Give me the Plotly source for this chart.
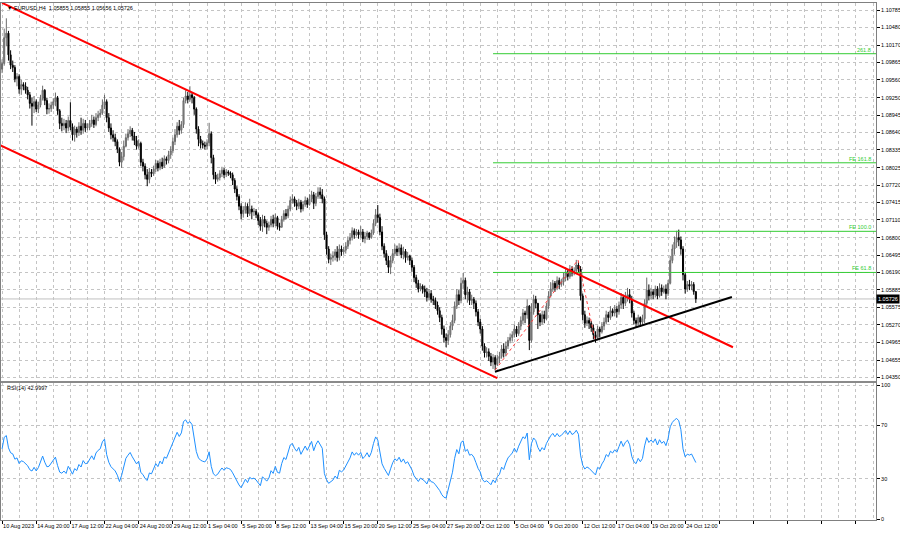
import plotly.graph_objects as go

# ---------------- data (EURUSD H4, 10 Aug 2023 04:00 -> 25 Oct 2023 08:00) ----------------
first_open = 1.0975
closes = [
    1.0985, 1.1030, 1.1038, 1.1000, 1.0982,
    1.0978, 1.0958, 1.0962, 1.0940, 1.0948, 1.0945,
    1.0938, 1.0930, 1.0915, 1.0910, 1.0918, 1.0905,
    1.0912, 1.0924, 1.0938, 1.0920, 1.0905, 1.0906,
    1.0912, 1.0918, 1.0925, 1.0902, 1.0880, 1.0876,
    1.0880, 1.0872, 1.0885, 1.0874, 1.0860, 1.0870,
    1.0864, 1.0875, 1.0868, 1.0880, 1.0872, 1.0873,
    1.0880, 1.0886, 1.0878, 1.0890, 1.0895, 1.0898,
    1.0912, 1.0918, 1.0890, 1.0872, 1.0860, 1.0855,
    1.0848, 1.0835, 1.0812, 1.0822, 1.0840, 1.0855,
    1.0862, 1.0868, 1.0858, 1.0850, 1.0840, 1.0845,
    1.0812, 1.0805, 1.0790, 1.0782, 1.0795, 1.0792,
    1.0800, 1.0810, 1.0802, 1.0812, 1.0805, 1.0818,
    1.0815, 1.0825, 1.0832, 1.0848, 1.0860, 1.0875,
    1.0868, 1.0878, 1.0920, 1.0928, 1.0922, 1.0930,
    1.0925, 1.0905, 1.0870, 1.0852, 1.0845, 1.0842,
    1.0840, 1.0846, 1.0862, 1.0820, 1.0790, 1.0782,
    1.0785, 1.0792, 1.0798, 1.0790, 1.0795, 1.0793,
    1.0790, 1.0780, 1.0765, 1.0752, 1.0735, 1.0722,
    1.0728, 1.0735, 1.0722, 1.0730, 1.0725, 1.0726,
    1.0720, 1.0710, 1.0700, 1.0712, 1.0705, 1.0698,
    1.0702, 1.0712, 1.0705, 1.0715, 1.0700, 1.0698,
    1.0712, 1.0722, 1.0718, 1.0730, 1.0745, 1.0748,
    1.0740, 1.0735, 1.0742, 1.0730, 1.0738, 1.0745,
    1.0738, 1.0748, 1.0755, 1.0740, 1.0752, 1.0760,
    1.0755, 1.0748, 1.0685, 1.0660, 1.0642, 1.0645,
    1.0648, 1.0655, 1.0645, 1.0660, 1.0655, 1.0658,
    1.0665, 1.0675, 1.0680, 1.0692, 1.0685, 1.0690,
    1.0685, 1.0690, 1.0678, 1.0682, 1.0688, 1.0680,
    1.0688, 1.0705, 1.0720, 1.0715, 1.0690, 1.0665,
    1.0652, 1.0640, 1.0628, 1.0640, 1.0652, 1.0660,
    1.0655, 1.0662, 1.0650, 1.0656, 1.0645, 1.0648,
    1.0640, 1.0628, 1.0610, 1.0600, 1.0590, 1.0595,
    1.0590, 1.0585, 1.0575, 1.0582, 1.0572, 1.0570,
    1.0562, 1.0552, 1.0540, 1.0520, 1.0505, 1.0500,
    1.0510, 1.0525, 1.0535, 1.0560, 1.0580, 1.0570,
    1.0600, 1.0605, 1.0580, 1.0585, 1.0570, 1.0572,
    1.0565, 1.0550, 1.0532, 1.0520, 1.0490, 1.0478,
    1.0480, 1.0472, 1.0462, 1.0470, 1.0458, 1.0468,
    1.0472, 1.0485, 1.0478, 1.0490, 1.0500, 1.0505,
    1.0510, 1.0520, 1.0512, 1.0525, 1.0535, 1.0548,
    1.0545, 1.0560, 1.0500, 1.0550, 1.0572, 1.0565,
    1.0545, 1.0532, 1.0545, 1.0538, 1.0560, 1.0578,
    1.0590, 1.0600, 1.0592, 1.0605, 1.0598, 1.0602,
    1.0610, 1.0620, 1.0612, 1.0625, 1.0618, 1.0622,
    1.0632, 1.0625, 1.0578, 1.0545, 1.0530, 1.0535,
    1.0530, 1.0522, 1.0510, 1.0505, 1.0520, 1.0515,
    1.0525, 1.0532, 1.0545, 1.0540, 1.0552, 1.0548,
    1.0555, 1.0550, 1.0562, 1.0575, 1.0565, 1.0575,
    1.0580, 1.0572, 1.0548, 1.0535, 1.0530, 1.0540,
    1.0532, 1.0538, 1.0565, 1.0588, 1.0578, 1.0585,
    1.0580, 1.0590, 1.0578, 1.0592, 1.0585, 1.0590,
    1.0582, 1.0600, 1.0640, 1.0660, 1.0672, 1.0680,
    1.0676, 1.0660, 1.0615, 1.0590, 1.0598, 1.0595,
    1.0598, 1.05855, 1.05726,
]
highs = [
    1.0992, 1.1046, 1.1064, 1.1042, 1.1008,
    1.0990, 1.0982, 1.0968, 1.0966, 1.0956, 1.0952,
    1.0952, 1.0944, 1.0935, 1.0925, 1.0928, 1.0922,
    1.0918, 1.0930, 1.0946, 1.0940, 1.0925, 1.0915,
    1.0918, 1.0924, 1.0934, 1.0928, 1.0905, 1.0890,
    1.0888, 1.0886, 1.0892, 1.0917, 1.0880, 1.0876,
    1.0874, 1.0882, 1.0890, 1.0888, 1.0886, 1.0880,
    1.0886, 1.0895, 1.0892, 1.0898, 1.0902, 1.0905,
    1.0922, 1.0930, 1.0922, 1.0898, 1.0880, 1.0868,
    1.0862, 1.0852, 1.0838, 1.0830, 1.0850, 1.0862,
    1.0870, 1.0875, 1.0872, 1.0865, 1.0858, 1.0852,
    1.0848, 1.0818, 1.0810, 1.0800, 1.0802, 1.0800,
    1.0806, 1.0816, 1.0815, 1.0818, 1.0820, 1.0824,
    1.0822, 1.0832, 1.0840, 1.0855, 1.0870, 1.0882,
    1.0886, 1.0884, 1.0925, 1.0938, 1.0935, 1.0945,
    1.0934, 1.0928, 1.0908, 1.0875, 1.0858, 1.0850,
    1.0848, 1.0852, 1.0881, 1.0866, 1.0825, 1.0795,
    1.0792, 1.0798, 1.0804, 1.0802, 1.0800, 1.0798,
    1.0796, 1.0794, 1.0784, 1.0770, 1.0756, 1.0740,
    1.0735, 1.0742, 1.0740, 1.0748, 1.0736, 1.0732,
    1.0730, 1.0724, 1.0716, 1.0720, 1.0718, 1.0710,
    1.0708, 1.0718, 1.0720, 1.0722, 1.0718, 1.0706,
    1.0718, 1.0728, 1.0730, 1.0736, 1.0752, 1.0756,
    1.0752, 1.0746, 1.0748, 1.0746, 1.0744, 1.0752,
    1.0750, 1.0756, 1.0762, 1.0760, 1.0758, 1.0768,
    1.0768, 1.0765, 1.0752, 1.0690, 1.0665, 1.0652,
    1.0656, 1.0660, 1.0665, 1.0668, 1.0666, 1.0664,
    1.0672, 1.0682, 1.0688, 1.0698, 1.0696, 1.0695,
    1.0694, 1.0700, 1.0695, 1.0690, 1.0692, 1.0690,
    1.0694, 1.0712, 1.0730, 1.0737, 1.0722, 1.0700,
    1.0670, 1.0658, 1.0648, 1.0648, 1.0660, 1.0668,
    1.0666, 1.0670, 1.0668, 1.0664, 1.0660, 1.0655,
    1.0650, 1.0645, 1.0632, 1.0615, 1.0606, 1.0600,
    1.0598, 1.0596, 1.0592, 1.0590, 1.0588, 1.0578,
    1.0575, 1.0568, 1.0558, 1.0545, 1.0526, 1.0512,
    1.0518, 1.0532, 1.0545, 1.0568, 1.0590, 1.0588,
    1.0610, 1.0618, 1.0610, 1.0594, 1.0590, 1.0580,
    1.0576, 1.0570, 1.0555, 1.0538, 1.0525, 1.0495,
    1.0488, 1.0486, 1.0478, 1.0476, 1.0474, 1.0475,
    1.0480, 1.0492, 1.0495, 1.0498, 1.0506, 1.0512,
    1.0516, 1.0528, 1.0525, 1.0532, 1.0542, 1.0555,
    1.0552, 1.0572, 1.0562, 1.0565, 1.0580, 1.0578,
    1.0555, 1.0548, 1.0552, 1.0552, 1.0566, 1.0586,
    1.0602, 1.0606, 1.0604, 1.0612, 1.0610, 1.0608,
    1.0618, 1.0628, 1.0625, 1.0632, 1.0630, 1.0628,
    1.0641, 1.0638, 1.0630, 1.0582, 1.0552, 1.0542,
    1.0540, 1.0534, 1.0528, 1.0516, 1.0526, 1.0524,
    1.0532, 1.0540, 1.0552, 1.0550, 1.0560, 1.0556,
    1.0562, 1.0560, 1.0568, 1.0583, 1.0580, 1.0585,
    1.0592, 1.0590, 1.0578, 1.0552, 1.0540, 1.0545,
    1.0542, 1.0545, 1.0572, 1.0610, 1.0598, 1.0592,
    1.0590, 1.0596, 1.0595, 1.0600, 1.0598, 1.0596,
    1.0598, 1.0606, 1.0648, 1.0668, 1.0682, 1.0692,
    1.0694, 1.0682, 1.0665, 1.0620, 1.0604, 1.0606,
    1.0604, 1.0602, 1.05855,
]
lows = [
    1.0968, 1.0981, 1.1015, 1.0990, 1.0975,
    1.0970, 1.0952, 1.0945, 1.0932, 1.0930, 1.0938,
    1.0932, 1.0922, 1.0906, 1.0876, 1.0898, 1.0900,
    1.0898, 1.0908, 1.0920, 1.0912, 1.0896, 1.0897,
    1.0900, 1.0905, 1.0910, 1.0895, 1.0870, 1.0866,
    1.0868, 1.0863, 1.0866, 1.0868, 1.0850, 1.0848,
    1.0855, 1.0858, 1.0860, 1.0862, 1.0865, 1.0868,
    1.0868, 1.0874, 1.0872, 1.0875, 1.0884, 1.0890,
    1.0895, 1.0905, 1.0882, 1.0865, 1.0852, 1.0848,
    1.0840, 1.0828, 1.0805, 1.0802, 1.0815, 1.0838,
    1.0850, 1.0856, 1.0850, 1.0842, 1.0834, 1.0836,
    1.0805, 1.0796, 1.0782, 1.0770, 1.0775, 1.0786,
    1.0788, 1.0795, 1.0796, 1.0798, 1.0800, 1.0802,
    1.0808, 1.0810, 1.0818, 1.0828, 1.0842, 1.0855,
    1.0860, 1.0862, 1.0872, 1.0915, 1.0915, 1.0918,
    1.0915, 1.0895, 1.0862, 1.0840, 1.0836, 1.0836,
    1.0834, 1.0835, 1.0840, 1.0810, 1.0782, 1.0774,
    1.0778, 1.0780, 1.0786, 1.0784, 1.0786, 1.0788,
    1.0784, 1.0772, 1.0758, 1.0745, 1.0728, 1.0712,
    1.0715, 1.0722, 1.0716, 1.0718, 1.0712, 1.0718,
    1.0714, 1.0702, 1.0692, 1.0690, 1.0698, 1.0686,
    1.0692, 1.0698, 1.0698, 1.0700, 1.0694, 1.0692,
    1.0698, 1.0708, 1.0712, 1.0714, 1.0726, 1.0740,
    1.0734, 1.0728, 1.0730, 1.0724, 1.0726, 1.0734,
    1.0732, 1.0736, 1.0742, 1.0730, 1.0735, 1.0748,
    1.0748, 1.0740, 1.0676, 1.0650, 1.0635, 1.0632,
    1.0638, 1.0640, 1.0638, 1.0640, 1.0648, 1.0650,
    1.0652, 1.0660, 1.0668, 1.0675, 1.0678, 1.0682,
    1.0678, 1.0680, 1.0672, 1.0670, 1.0676, 1.0676,
    1.0678, 1.0685, 1.0700, 1.0706, 1.0684, 1.0658,
    1.0645, 1.0632, 1.0618, 1.0616, 1.0635, 1.0648,
    1.0648, 1.0650, 1.0644, 1.0642, 1.0636, 1.0640,
    1.0632, 1.0620, 1.0602, 1.0592, 1.0584, 1.0586,
    1.0582, 1.0576, 1.0568, 1.0570, 1.0566, 1.0562,
    1.0555, 1.0545, 1.0532, 1.0510, 1.0496, 1.0488,
    1.0492, 1.0505, 1.0518, 1.0530, 1.0555, 1.0562,
    1.0565, 1.0590, 1.0572, 1.0566, 1.0562, 1.0562,
    1.0555, 1.0542, 1.0525, 1.0512, 1.0482, 1.0470,
    1.0470, 1.0464, 1.0455, 1.0450, 1.0448, 1.0455,
    1.0460, 1.0468, 1.0470, 1.0472, 1.0485, 1.0495,
    1.0498, 1.0505, 1.0506, 1.0508, 1.0518, 1.0528,
    1.0530, 1.0538, 1.0483, 1.0496, 1.0545, 1.0556,
    1.0520, 1.0525, 1.0528, 1.0530, 1.0535, 1.0555,
    1.0575, 1.0585, 1.0585, 1.0588, 1.0590, 1.0594,
    1.0596, 1.0604, 1.0605, 1.0608, 1.0612, 1.0614,
    1.0616, 1.0618, 1.0570, 1.0535, 1.0522, 1.0525,
    1.0520, 1.0515, 1.0502, 1.0496, 1.0500, 1.0505,
    1.0512, 1.0518, 1.0528, 1.0532, 1.0536, 1.0542,
    1.0542, 1.0540, 1.0545, 1.0555, 1.0555, 1.0560,
    1.0568, 1.0565, 1.0540, 1.0528, 1.0522, 1.0525,
    1.0524, 1.0526, 1.0530, 1.0560, 1.0570, 1.0572,
    1.0572, 1.0575, 1.0572, 1.0575, 1.0578, 1.0582,
    1.0572, 1.0578, 1.0598, 1.0635, 1.0650, 1.0662,
    1.0665, 1.0650, 1.0605, 1.0582, 1.0585, 1.0588,
    1.0588, 1.0580, 1.05656,
]

date_labels = ["10 Aug 2023", "14 Aug 20:00", "17 Aug 12:00", "22 Aug 04:00", "24 Aug 20:00",
               "29 Aug 12:00", "1 Sep 04:00", "5 Sep 20:00", "8 Sep 12:00", "13 Sep 04:00",
               "15 Sep 20:00", "20 Sep 12:00", "25 Sep 04:00", "27 Sep 20:00", "2 Oct 12:00",
               "5 Oct 04:00", "9 Oct 20:00", "12 Oct 12:00", "17 Oct 04:00", "19 Oct 20:00",
               "24 Oct 12:00"]
bars_per_label = 16

price_ticks = [1.10785, 1.10480, 1.10170, 1.09865, 1.09560, 1.09250, 1.08945, 1.08640,
               1.08335, 1.08025, 1.07720, 1.07415, 1.07110, 1.06800, 1.06495, 1.06190,
               1.05885, 1.05575, 1.05270, 1.04965, 1.04655, 1.04350]
rsi_ticks = [0, 30, 70, 100]

# trend-line anchor points (bar index, price)
channel_upper = ([0, 342.4], [1.1091, 1.0488])
channel_lower = ([-1, 232.0], [1.0842, 1.0434])
support_line = ([230.9, 341.9], [1.0445, 1.0576])
fe_points = ([231, 269.8, 277.8], [1.0448, 1.0641, 1.0501])
fe_levels = [1.0619, 1.0691, 1.0811, 1.1002]
fe_names = ["FE 61.8", "FE 100.0", "FE 161.8", "261.8"]
fe_start = 230
last_price = 1.05726
title_text = "▼ EURUSD,H4  1.05855 1.05855 1.05656 1.05726"
rsi_seed = 0.0008  # assumed prior average gain/loss before the first visible bar

# ---------------- derived ----------------
n = len(closes)
assert len(highs) == n and len(lows) == n, (n, len(highs), len(lows))
idx = list(range(n))
opens = [first_open] + closes[:-1]
highs = [max(h, o, c) for h, o, c in zip(highs, opens, closes)]
lows = [min(l, o, c) for l, o, c in zip(lows, opens, closes)]

def rsi(vals, period=14):
    ag = al = rsi_seed
    out = []
    prev = first_open
    for v in vals:
        d = v - prev
        prev = v
        ag = (ag * (period - 1) + max(d, 0.0)) / period
        al = (al * (period - 1) + max(-d, 0.0)) / period
        out.append(100 - 100 / (1 + ag / al))
    return out

rsi_vals = rsi(closes)

FONT = "Liberation Sans"
FS = 5.5
XMAX = 409.4
XMIN = -0.5

fig = go.Figure()
fig.add_trace(go.Candlestick(
    x=idx, open=opens, high=highs, low=lows, close=closes,
    increasing=dict(line=dict(color="#6a6a6a", width=1), fillcolor="#9a9a9a"),
    decreasing=dict(line=dict(color="#000000", width=1), fillcolor="#000000"),
    whiskerwidth=0, xaxis="x", yaxis="y", showlegend=False, hoverinfo="skip"))

for lvl in fe_levels:
    fig.add_trace(go.Scatter(x=[fe_start, XMAX], y=[lvl, lvl], mode="lines",
                             line=dict(color="#33cc33", width=1), xaxis="x", yaxis="y",
                             showlegend=False, hoverinfo="skip"))
fig.add_trace(go.Scatter(x=fe_points[0], y=fe_points[1], mode="lines",
                         line=dict(color="#ff4040", width=1, dash="dot"),
                         xaxis="x", yaxis="y", showlegend=False, hoverinfo="skip"))
for ln in (channel_upper, channel_lower):
    fig.add_trace(go.Scatter(x=ln[0], y=ln[1], mode="lines",
                             line=dict(color="#ff0000", width=2), xaxis="x", yaxis="y",
                             showlegend=False, hoverinfo="skip"))
fig.add_trace(go.Scatter(x=support_line[0], y=support_line[1], mode="lines",
                         line=dict(color="#000000", width=2), xaxis="x", yaxis="y",
                         showlegend=False, hoverinfo="skip"))
fig.add_trace(go.Scatter(x=idx, y=rsi_vals, mode="lines",
                         line=dict(color="#1e90ff", width=1), xaxis="x2", yaxis="y2",
                         showlegend=False, hoverinfo="skip"))

tick_idx = [i * bars_per_label for i in range(int(XMAX // bars_per_label) + 1)]
tick_txt = [date_labels[i] if i < len(date_labels) else "" for i in range(len(tick_idx))]
minor_idx = [t + bars_per_label // 2 for t in tick_idx]

grid = dict(gridcolor="#c4c4c4", griddash="dot", gridwidth=1)
axline = dict(showline=True, linecolor="#808080", linewidth=1, mirror=True)

main_bottom = (534 - 14 - 381) / (534 - 3 - 14)
rsi_top = (534 - 14 - 383) / (534 - 3 - 14)

fig.update_layout(
    width=900, height=534,
    margin=dict(l=1, r=24, t=3, b=14, autoexpand=False),
    paper_bgcolor="white", plot_bgcolor="white",
    font=dict(family=FONT, size=FS, color="black"),
    xaxis=dict(domain=[0, 1], range=[XMIN, XMAX], anchor="y", automargin=False,
               tickmode="array", tickvals=tick_idx, ticktext=[""] * len(tick_idx),
               showticklabels=False, ticks="", showgrid=True, **grid, **axline,
               minor=dict(tickvals=minor_idx, showgrid=True, gridcolor="#c4c4c4",
                          griddash="dot", ticks=""),
               rangeslider=dict(visible=False), zeroline=False),
    yaxis=dict(domain=[main_bottom, 1], range=[1.04289, 1.10908], anchor="x", side="right",
               automargin=False, tickmode="array", tickvals=price_ticks,
               ticktext=[f"{v:.5f}" for v in price_ticks],
               ticks="outside", ticklen=3, tickcolor="#000000",
               tickfont=dict(size=FS, family=FONT), showgrid=True, **grid, **axline,
               zeroline=False),
    xaxis2=dict(domain=[0, 1], range=[XMIN, XMAX], anchor="y2", automargin=False,
                tickmode="array", tickvals=tick_idx, ticktext=tick_txt, tickangle=0,
                ticks="outside", ticklen=3, tickcolor="#000000",
                ticklabelposition="outside right",
                tickfont=dict(size=FS, family=FONT), showgrid=True, **grid, **axline,
                minor=dict(tickvals=minor_idx, showgrid=True, gridcolor="#c4c4c4",
                           griddash="dot", ticks=""),
                zeroline=False),
    yaxis2=dict(domain=[0, rsi_top], range=[-0.7, 101.5], anchor="x2", side="right",
                automargin=False, tickmode="array", tickvals=rsi_ticks,
                ticktext=[str(v) for v in rsi_ticks],
                ticks="outside", ticklen=3, tickcolor="#000000",
                tickfont=dict(size=FS, family=FONT), showgrid=True, **grid, **axline,
                zeroline=False),
)

fig.add_shape(type="line", xref="paper", yref="paper", x0=0, x1=1,
              y0=(main_bottom + rsi_top) / 2, y1=(main_bottom + rsi_top) / 2,
              line=dict(color="#8a8a8a", width=2))
fig.add_shape(type="line", xref="x", yref="y", x0=XMIN, x1=XMAX, y0=last_price, y1=last_price,
              line=dict(color="#c0c0c0", width=1), layer="below")

annotations = [
    dict(xref="paper", yref="paper", x=0.004, y=1.0, xanchor="left", yanchor="top",
         text=title_text, showarrow=False, font=dict(size=FS, family=FONT, color="black")),
    dict(xref="paper", yref="paper", x=0.004, y=rsi_top, xanchor="left", yanchor="top",
         text="RSI(14) 42.9997", showarrow=False,
         font=dict(size=FS, family=FONT, color="black")),
    dict(xref="paper", yref="y", x=1.0, y=last_price, xanchor="left", yanchor="middle",
         text=f"{last_price:.5f}", showarrow=False, bgcolor="#000000", borderpad=1,
         font=dict(size=FS, family=FONT, color="white")),
]
for lvl, name in zip(fe_levels, fe_names):
    annotations.append(dict(xref="paper", yref="y", x=0.997, y=lvl, xanchor="right",
                            yanchor="bottom", text=name, showarrow=False, yshift=-1,
                            font=dict(size=FS, family=FONT, color="#33cc33")))
fig.update_layout(annotations=annotations)

fig.write_html("out.html", config={"displayModeBar": False},
               post_script="document.body.style.margin='0';document.body.style.padding='0';")
